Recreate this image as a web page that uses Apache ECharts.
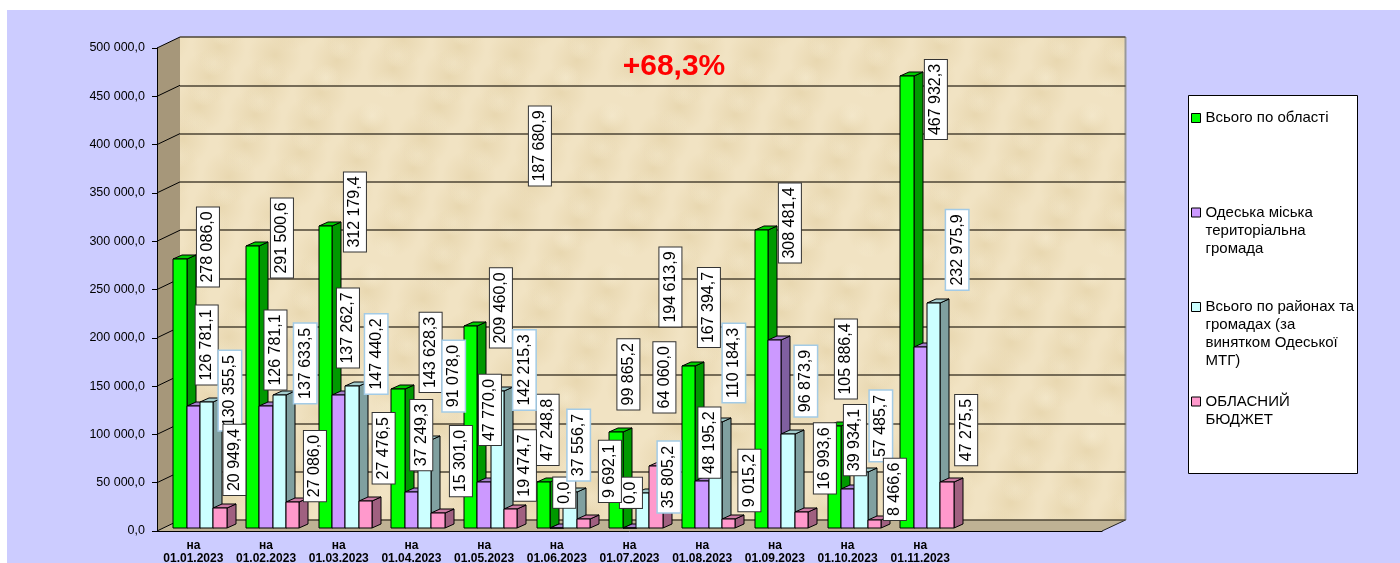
<!DOCTYPE html>
<html>
<head>
<meta charset="utf-8">
<style>
html, body { margin: 0; padding: 0; background: #fff; }
#main { width: 1400px; height: 563px; }
</style>
<script src="https://cdn.jsdelivr.net/npm/echarts@6/dist/echarts.min.js"></script>
</head>
<body>
<div id="main"></div>
<script>
const categories = ["на\n01.01.2023", "на\n01.02.2023", "на\n01.03.2023", "на\n01.04.2023", "на\n01.05.2023", "на\n01.06.2023",
	"на\n01.07.2023", "на\n01.08.2023", "на\n01.09.2023", "на\n01.10.2023", "на\n01.11.2023", "", ""];
const yTicks = [0, 50000, 100000, 150000, 200000, 250000, 300000, 350000, 400000, 450000, 500000];

const regionTotal = [278086.0, 291500.6, 312179.4, 143628.3, 209460.0, 47248.8, 99865.2, 167394.7, 308481.4, 105886.4, 467932.3];
const odesaCity = [126781.1, 126781.1, 137262.7, 37249.3, 47770.0, 0.0, 0.0, 48195.2, 194613.9, 39934.1, 187680.9];
const districts = [130355.5, 137633.5, 147440.2, 91078.0, 142215.3, 37556.7, 35805.2, 110184.3, 96873.9, 57485.7, 232975.9];
const oblastBudget = [20949.4, 27086.0, 27476.5, 15301.0, 19474.7, 9692.1, 64060.0, 9015.2, 16993.6, 8466.6, 47275.5];

const seriesNames = ["Всього по області", "Одеська міська територіальна громада",
	"Всього по районах та громадах (за винятком Одеської МТГ)", "ОБЛАСНИЙ БЮДЖЕТ"];
const legendLines = [["Всього по області"], ["Одеська міська", "територіальна", "громада"],
	["Всього по районах та", "громадах (за", "винятком Одеської", "МТГ)"], ["ОБЛАСНИЙ", "БЮДЖЕТ"]];
const noteText = "+68,3%";

// label shift from the top of its bar, the labels were dragged by hand in the original
const offsetsTotal = [[28, -12.4], [29.3, -8.4], [29.6, -14.4], [32.6, -36.8], [30.2, -17.7], [4.2, -52.4], [12.3, -57.2], [20.1, -58.8], [28.4, -7], [11.7, -66.7], [29, 23.5]];
const offsetsCity = [[13.4, -60.5], [9.5, -55.5], [9.3, -67.4], [9.9, -57], [5.9, -71.9], [7.5, -35.3], [1.5, -35.2], [7.3, -38.9], [-104.4, -53], [7.4, -49.4], [-380.3, -200.7]];
const offsetsDistricts = [[23.3, -11.4], [25.9, -31.7], [24.2, -31.6], [29, -64], [27, -20.6], [8.6, -46.7], [26.1, -16.4], [18.4, -58.6], [17.7, -53.4], [20, -46.5], [23.6, -53]];
const offsetsBudget = [[14.5, -47.8], [22.3, -35.8], [18.3, -53.2], [22.9, -52.2], [14.2, -43.7], [26.5, -47.3], [8.3, -88.8], [20.6, -38.8], [23.4, -53.1], [20.7, -30.5], [19.3, -52.3]];

const FONT = '"Liberation Sans", Arial, sans-serif';
const colors = [
	{ front: "#00ff00", top: "#00cc00", side: "#009900", labelBorder: "#333333", labelWidth: 1 },
	{ front: "#cc99ff", top: "#a67fcc", side: "#7f5fa0", labelBorder: "#333333", labelWidth: 1 },
	{ front: "#ccffff", top: "#a3cccc", side: "#80a0a0", labelBorder: "#a3cbe6", labelWidth: 1.5 },
	{ front: "#ff99cc", top: "#cc7aa3", side: "#a06080", labelBorder: "#333333", labelWidth: 1 }
];

function formatNumber(v) {
	var parts = v.toFixed(1).split(".");
	return parts[0].replace(/\B(?=(\d{3})+$)/g, " ") + "," + parts[1];
}

// paper look of the back wall, blotches wrap around so the tile has no seams
function wallTexture() {
	var tile = document.createElement("canvas");
	var W = 240, H = 160;
	tile.width = W;
	tile.height = H;
	var ctx = tile.getContext("2d");
	ctx.fillStyle = "#f1e3c3";
	ctx.fillRect(0, 0, W, H);
	for (var i = 0; i < 40; i++) {
		var r = 14 + (i * 13) % 26;
		var c = i % 2 ? "224,204,158" : "249,240,216";
		for (var ox = -W; ox <= W; ox += W) {
			for (var oy = -H; oy <= H; oy += H) {
				var x = (i * 97) % W + ox;
				var y = (i * 61) % H + oy;
				var g = ctx.createRadialGradient(x, y, 0, x, y, r);
				g.addColorStop(0, "rgba(" + c + ",0.5)");
				g.addColorStop(1, "rgba(" + c + ",0)");
				ctx.fillStyle = g;
				ctx.fillRect(x - r, y - r, r * 2, r * 2);
			}
		}
	}
	return tile;
}

function bar3d(index) {
	return function (params, api) {
		var cat = api.value(0);
		var value = api.value(1);
		var top = api.coord([cat, value]);
		var base = api.coord([cat, 0]);
		var w = api.size([1, 0])[0] * 0.1834;
		var x0 = Math.round(top[0] + (index - 2) * w);
		var x1 = Math.round(top[0] + (index - 1) * w);
		var y0 = Math.round(top[1]);
		var y1 = Math.round(base[1]);
		var c = colors[index];
		var off = allOffsets[index][cat];
		return {
			type: "group",
			children: [
				{ type: "polygon", shape: { points: [[x1, y0], [x1 + 9, y0 - 4], [x1 + 9, y1 - 4], [x1, y1]] }, style: { fill: c.side, stroke: "#000", lineWidth: 1 } },
				{ type: "polygon", shape: { points: [[x0, y0], [x0 + 9, y0 - 4], [x1 + 9, y0 - 4], [x1, y0]] }, style: { fill: c.top, stroke: "#000", lineWidth: 1 } },
				{ type: "rect", shape: { x: x0, y: y0, width: x1 - x0, height: y1 - y0 }, style: { fill: c.front, stroke: "#000", lineWidth: 1 } },
				{
					type: "text",
					x: top[0] + (index - 1.5) * w + off[0],
					y: top[1] + off[1],
					rotation: Math.PI / 2,
					z2: 100,
					style: {
						text: formatNumber(value),
						font: "16px " + FONT,
						fill: "#000",
						align: "center",
						verticalAlign: "middle",
						backgroundColor: "#fff",
						borderColor: c.labelBorder,
						borderWidth: c.labelWidth,
						padding: [3, 4]
					}
				}
			]
		};
	};
}

const allOffsets = [offsetsTotal, offsetsCity, offsetsDistricts, offsetsBudget];
const allValues = [regionTotal, odesaCity, districts, oblastBudget];

var series = [{
	name: "wall",
	type: "custom",
	xAxisIndex: 0,
	yAxisIndex: 0,
	silent: true,
	z: 1,
	data: yTicks.map((v) => [0, v]),
	encode: { x: 0, y: 1 },
	renderItem: function (params, api) {
		var y = api.coord([0, api.value(1)])[1];
		return { type: "line", shape: { x1: 157, y1: y, x2: 180, y2: y - 11 }, style: { stroke: "#000", lineWidth: 1 } };
	}
}];
for (let i = 0; i < allValues.length; i++) {
	series.push({
		name: seriesNames[i],
		type: "custom",
		xAxisIndex: 1,
		yAxisIndex: 1,
		z: 2,
		itemStyle: { color: colors[i].front },
		data: allValues[i].map((v, k) => [k, v]),
		encode: { x: 0, y: 1 },
		renderItem: bar3d(i)
	});
}

var myChart = echarts.init(document.querySelector("#main"));

var option = {
	animation: false,
	backgroundColor: "#fff",
	title: {
		text: noteText,
		left: 669,
		top: 47,
		textAlign: "center",
		textStyle: { color: "#ff0000", fontFamily: FONT, fontWeight: "bold", fontSize: 30 }
	},
	legend: {
		orient: "vertical",
		left: 1191,
		top: 55,
		padding: 0,
		itemGap: -31.5,
		itemWidth: 9,
		itemHeight: 9,
		icon: "rect",
		selectedMode: false,
		data: seriesNames,
		itemStyle: { borderColor: "#000", borderWidth: 1 },
		textStyle: { fontFamily: FONT, fontSize: 15, color: "#000", lineHeight: 18 },
		formatter: function (name) {
			// blank lines keep the marker level with the first line of the text
			var lines = legendLines[seriesNames.indexOf(name)];
			var out = ["", "", ""].concat(lines);
			while (out.length < 7) out.push("");
			return out.join("\n");
		}
	},
	// outerBoundsMode off, otherwise the grid shrinks to keep the date labels on the page
	grid: [
		{ left: 157, top: 48, width: 945, height: 483, outerBoundsMode: "none" },
		{ left: 163.6, top: 45, width: 945, height: 483, outerBoundsMode: "none" },
		{ left: 180, top: 37, width: 945.5, height: 483, outerBoundsMode: "none" }
	],
	xAxis: [
		{
			type: "category",
			gridIndex: 0,
			data: categories,
			axisLine: { lineStyle: { color: "#000", width: 1 } },
			axisTick: { length: 4, lineStyle: { color: "#555" } },
			axisLabel: { interval: 0, margin: 8, fontFamily: FONT, fontSize: 12, fontWeight: "bold", color: "#000", lineHeight: 13 }
		},
		{ type: "category", gridIndex: 1, data: categories, show: false },
		{ type: "category", gridIndex: 2, data: categories, show: false }
	],
	yAxis: [
		{
			type: "value",
			gridIndex: 0,
			min: 0,
			max: 500000,
			interval: 50000,
			splitLine: { show: false },
			axisLine: { show: true, lineStyle: { color: "#000", width: 1 } },
			axisTick: { show: true, length: 5, lineStyle: { color: "#000" } },
			axisLabel: {
				margin: 12,
				fontFamily: FONT,
				fontSize: 12.5,
				color: "#000",
				formatter: (v) => formatNumber(v)
			}
		},
		{ type: "value", gridIndex: 1, min: 0, max: 500000, interval: 50000, show: false, splitLine: { show: false } },
		{
			type: "value",
			gridIndex: 2,
			min: 0,
			max: 500000,
			interval: 50000,
			axisLine: { show: false },
			axisTick: { show: false },
			axisLabel: { show: false },
			splitLine: { show: true, lineStyle: { color: "#4d4535", width: 1.5 } }
		}
	],
	graphic: [
		{ type: "rect", z: -10, silent: true, shape: { x: 7, y: 10, width: 1393, height: 553 }, style: { fill: "#ccccff" } },
		{ type: "rect", z: -9, silent: true, shape: { x: 180, y: 37, width: 945.5, height: 483 }, style: { fill: { image: wallTexture(), repeat: "repeat" } } },
		{ type: "polygon", z: -9, silent: true, shape: { points: [[157, 48], [180, 37], [180, 520], [157, 531]] }, style: { fill: "#a6977a" } },
		{ type: "polygon", z: -9, silent: true, shape: { points: [[157, 531], [180, 520], [1125.5, 520], [1102, 531]] }, style: { fill: "#bfb294" } },
		{ type: "line", z: -8, silent: true, shape: { x1: 1125.5, y1: 37, x2: 1125.5, y2: 520 }, style: { stroke: "#999999", lineWidth: 2 } },
		{ type: "line", z: -8, silent: true, shape: { x1: 1102, y1: 531, x2: 1125.5, y2: 520 }, style: { stroke: "#222", lineWidth: 1 } },
		{ type: "rect", z: -8, silent: true, shape: { x: 1188.5, y: 95.5, width: 169, height: 378 }, style: { fill: "#fff", stroke: "#000", lineWidth: 1 } }
	],
	series: series
};
myChart.setOption(option);
</script>
</body>
</html>
